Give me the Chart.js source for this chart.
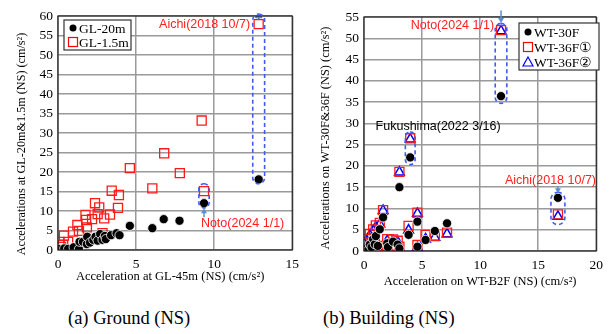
<!DOCTYPE html>
<html lang="en">
<head>
  <meta charset="UTF-8">
  <title>Acceleration comparison</title>
  <script src="https://cdn.jsdelivr.net/npm/chart.js"></script>
  <style>
    body { margin: 0; background: #fff; width: 609px; height: 334px; position: relative; overflow: hidden; }
    canvas { position: absolute; top: 0; }
    #ground { left: 0; }
    #building { left: 305px; }
    .cap { position: absolute; top: 307px; font-family: "Liberation Serif", "DejaVu Serif", serif; font-size: 18.5px; line-height: 22px; color: #000; }
  </style>
</head>
<body>
  <canvas id="ground" width="305" height="290"></canvas>
  <canvas id="building" width="304" height="290"></canvas>
  <div class="cap" style="left:68px">(a) Ground (NS)</div>
  <div class="cap" style="left:323px">(b) Building (NS)</div>

  <script>
    // (a) Ground: x = GL-45m, y = GL-20m / GL-1.5m
    const gl20X = [0.1, 0.4, 0.65, 1.0, 1.34, 1.38, 1.6, 1.85, 1.87, 2.05, 2.26, 2.4, 2.54, 2.7, 2.85, 3.0, 3.06, 3.4, 3.75, 3.94, 4.6, 6.04, 6.77, 7.78, 9.35, 12.85];
    const gl20Y = [0.2, 0.4, 0.3, 0.7, 0.2, 2.1, 2.1, 1.5, 3.4, 1.9, 2.6, 3.4, 2.4, 4.1, 2.6, 3.6, 2.8, 3.8, 4.3, 3.8, 6.2, 5.6, 7.9, 7.5, 12.0, 18.1];
    const gl15X = [0.1, 0.2, 0.33, 0.38, 0.65, 0.96, 1.24, 1.34, 1.76, 1.8, 1.85, 2.18, 2.37, 2.54, 2.64, 2.85, 2.96, 3.33, 3.44, 3.84, 3.9, 4.6, 6.04, 6.8, 7.8, 9.2, 9.35, 12.85];
    const gl15Y = [2.1, 0.8, 1.3, 3.7, 2.1, 4.7, 6.4, 4.9, 9.0, 7.7, 5.8, 7.9, 12.0, 9.2, 10.9, 4.3, 8.1, 9.1, 15.2, 10.8, 14.1, 21.0, 15.8, 24.8, 19.7, 33.2, 15.1, 57.9];

    // (b) Building: x = WT-B2F, y = WT-30F / WT-36F(1) / WT-36F(2)
    const wtX = [0.03, 0.23, 0.37, 0.5, 0.65, 0.79, 0.93, 1.02, 1.2, 1.36, 1.64, 2.0, 2.06, 2.5, 2.9, 3.05, 3.05, 3.84, 3.98, 4.6, 4.6, 5.3, 6.1, 7.15, 11.8, 16.7];
    const wt30Y = [0.8, 0.6, 0.2, 1.5, 0.9, 2.8, 1.6, 3.5, 1.2, 5.1, 7.9, 1.8, 0.9, 2.2, 1.5, 15.0, 0.6, 3.8, 22.0, 6.9, 1.0, 2.6, 4.7, 6.5, 36.4, 12.5];
    const wt36aY = [1.9, 2.8, 0.4, 4.0, 1.6, 5.1, 2.4, 6.0, 1.2, 6.6, 9.6, 2.8, 1.1, 2.7, 2.4, 18.6, 1.0, 5.9, 26.5, 9.0, 1.4, 3.8, 3.5, 4.3, 51.9, 8.6];
    const wt36bY = [1.7, 2.5, 0.2, 3.7, 1.4, 4.8, 2.1, 5.6, 1.0, 6.3, 9.5, 2.4, 0.9, 2.4, 2.1, 18.5, 0.7, 4.9, 26.3, 8.8, 0.8, 2.8, 3.2, 4.0, 51.7, 8.1];

    const xTicksA = [0, 5, 10, 15];
    const yTicksA = [0, 5, 10, 15, 20, 25, 30, 35, 40, 45, 50, 55, 60];
    const xTicksB = [0, 5, 10, 15, 20];
    const yTicksB = [0, 5, 10, 15, 20, 25, 30, 35, 40, 45, 50, 55];

    // event highlights: [xCentre, yLow, yHigh, halfWidthX]
    const eventsA = [[12.85, 17.0, 60.5, 0.38], [9.35, 10.8, 17.0, 0.33]];
    const eventsB = [[11.8, 34.7, 53.5, 0.5], [3.98, 20.3, 28.0, 0.42], [16.7, 6.2, 13.8, 0.6]];

    const serif = '"Liberation Serif", "DejaVu Serif", serif';
    const sans = '"Liberation Sans", "Noto Sans", sans-serif';

    function pts(xs, ys) {
      return xs.map((x, i) => ({ x: x, y: ys[i] }));
    }

    // axis titles, dashed capsules, arrows, labels and plot frame
    function overlay(titles, events, notes, arrows) {
      return {
        id: 'overlay',
        afterDatasetsDraw(chart) {
          const ctx = chart.ctx;
          const xs = chart.scales.x, ys = chart.scales.y;
          const a = chart.chartArea;
          ctx.save();
          ctx.strokeStyle = '#222';
          ctx.lineWidth = 1.2;
          ctx.strokeRect(a.left, a.top, a.right - a.left, a.bottom - a.top);

          ctx.fillStyle = '#000';
          ctx.textAlign = 'center';
          ctx.textBaseline = 'middle';
          ctx.font = titles.xSize + 'px ' + serif;
          ctx.fillText(titles.x, (a.left + a.right) / 2 + titles.xShift, a.bottom + titles.xGap);
          ctx.save();
          ctx.translate(a.left - titles.yGap, (a.top + a.bottom) / 2 + titles.yShift);
          ctx.rotate(-Math.PI / 2);
          ctx.font = titles.ySize + 'px ' + serif;
          ctx.fillText(titles.y, 0, 0);
          ctx.restore();

          ctx.setLineDash([4, 3]);
          ctx.strokeStyle = '#3f5bf2';
          ctx.lineWidth = 1.6;
          events.forEach(e => {
            const cx = xs.getPixelForValue(e[0]);
            const w = xs.getPixelForValue(e[0] + e[3]) - cx;
            const top = ys.getPixelForValue(e[2]);
            const bot = ys.getPixelForValue(e[1]);
            ctx.beginPath();
            ctx.roundRect(cx - w, top, 2 * w, bot - top, w);
            ctx.stroke();
          });
          ctx.setLineDash([]);

          ctx.strokeStyle = '#5b8fd0';
          ctx.fillStyle = '#5b8fd0';
          ctx.lineWidth = 1.5;
          arrows.forEach(r => {
            const x = xs.getPixelForValue(r[0]);
            const y0 = ys.getPixelForValue(r[1]);
            const y1 = ys.getPixelForValue(r[2]);
            const d = y1 > y0 ? 1 : -1;
            ctx.beginPath();
            ctx.moveTo(x, y0);
            ctx.lineTo(x, y1 - d * 3);
            ctx.stroke();
            ctx.beginPath();
            ctx.moveTo(x, y1);
            ctx.lineTo(x - 3, y1 - d * 5);
            ctx.lineTo(x + 3, y1 - d * 5);
            ctx.closePath();
            ctx.fill();
          });

          ctx.font = '12.5px ' + sans;
          ctx.textBaseline = 'middle';
          notes.forEach(n => {
            ctx.fillStyle = n.color;
            ctx.textAlign = n.align;
            ctx.fillText(n.text, xs.getPixelForValue(n.x), ys.getPixelForValue(n.y));
          });
          ctx.restore();
        }
      };
    }

    // boxed legend inside the plot
    function legendBox(box, items) {
      return {
        id: 'legendBox',
        afterDraw(chart) {
          const ctx = chart.ctx;
          ctx.save();
          ctx.fillStyle = '#fff';
          ctx.fillRect(box[0], box[1], box[2], box[3]);
          ctx.strokeStyle = '#333';
          ctx.lineWidth = 1.2;
          ctx.strokeRect(box[0], box[1], box[2], box[3]);
          ctx.font = '13.5px ' + serif;
          ctx.textBaseline = 'middle';
          ctx.textAlign = 'left';
          items.forEach((it, i) => {
            const y = box[1] + box[4] + i * box[5];
            const x = box[0] + 9;
            ctx.lineWidth = 1.2;
            ctx.beginPath();
            if (it.shape === 'dot') {
              ctx.fillStyle = '#000';
              ctx.arc(x, y, 3.5, 0, Math.PI * 2);
              ctx.fill();
            } else if (it.shape === 'sq') {
              ctx.strokeStyle = '#ff0000';
              ctx.strokeRect(x - 4.5, y - 4.5, 9, 9);
            } else {
              ctx.strokeStyle = '#0000ff';
              ctx.moveTo(x, y - 5);
              ctx.lineTo(x + 5, y + 4);
              ctx.lineTo(x - 5, y + 4);
              ctx.closePath();
              ctx.stroke();
            }
            ctx.fillStyle = '#000';
            ctx.fillText(it.label, x + 6, y + 1);
          });
          ctx.restore();
        }
      };
    }

    function axes(xTicks, yTicks, yWidth, xHeight) {
      const grid = { color: '#9a9a9a', lineWidth: 1.5, drawTicks: false };
      return {
        x: {
          type: 'linear', min: xTicks[0], max: xTicks[xTicks.length - 1],
          afterBuildTicks: s => { s.ticks = xTicks.map(v => ({ value: v })); },
          afterFit: s => { s.height = xHeight; },
          grid: grid, border: { display: false },
          ticks: { color: '#000', font: { family: serif, size: 13.5 }, padding: 6 }
        },
        y: {
          type: 'linear', min: yTicks[0], max: yTicks[yTicks.length - 1],
          afterBuildTicks: s => { s.ticks = yTicks.map(v => ({ value: v })); },
          afterFit: s => { s.width = yWidth; },
          grid: grid, border: { display: false },
          ticks: { color: '#000', font: { family: serif, size: 13.5 }, padding: 5 }
        }
      };
    }

    const base = {
      responsive: false,
      animation: false,
      plugins: { legend: { display: false }, tooltip: { enabled: false } }
    };

    new Chart(document.getElementById('ground'), {
      type: 'scatter',
      data: {
        datasets: [
          { label: 'GL-20m', data: pts(gl20X, gl20Y), pointStyle: 'circle', pointRadius: 4.6, backgroundColor: '#000', borderColor: '#fff', borderWidth: 0.8 },
          { label: 'GL-1.5m', data: pts(gl15X, gl15Y), pointStyle: 'rect', pointRadius: 6.4, backgroundColor: 'rgba(255,255,255,0)', borderColor: '#ff1a1a', borderWidth: 1.3 },
          { label: 'mark', data: [{ x: 12.85, y: 60.3 }], pointStyle: 'star', pointRadius: 4.5, borderColor: '#4a7ac0', borderWidth: 2, backgroundColor: '#4a7ac0' }
        ]
      },
      options: Object.assign({}, base, {
        layout: { padding: { left: 0, top: 16, right: 9, bottom: 0 } },
        scales: axes(xTicksA, yTicksA, 58, 40)
      }),
      plugins: [
        overlay({ x: 'Acceleration at GL-45m (NS) (cm/s²)', xSize: 12.5, xGap: 27, xShift: -5,
                  y: 'Accelerations at GL-20m&1.5m (NS) (cm/s²)', ySize: 12.2, yGap: 36, yShift: 11 },
          eventsA,
          [{ text: 'Aichi(2018 10/7)', x: 12.3, y: 57.9, color: '#ff2020', align: 'right' },
           { text: 'Noto(2024 1/1)', x: 9.15, y: 6.8, color: '#ff2020', align: 'left' }],
          [[9.35, 8.4, 10.7]]),
        legendBox([64, 20, 67, 30, 8, 14], [{ shape: 'dot', label: 'GL-20m' }, { shape: 'sq', label: 'GL-1.5m' }])
      ]
    });

    new Chart(document.getElementById('building'), {
      type: 'scatter',
      data: {
        datasets: [
          { label: 'WT-30F', data: pts(wtX, wt30Y), pointStyle: 'circle', pointRadius: 4.6, backgroundColor: '#000', borderColor: '#fff', borderWidth: 0.8 },
          { label: 'WT-36F①', data: pts(wtX, wt36aY), pointStyle: 'rect', pointRadius: 6.4, backgroundColor: 'rgba(255,255,255,0)', borderColor: '#ff1a1a', borderWidth: 1.3 },
          { label: 'WT-36F②', data: pts(wtX, wt36bY), pointStyle: 'triangle', pointRadius: 5.6, backgroundColor: 'rgba(255,255,255,0)', borderColor: '#0000ff', borderWidth: 1.5 }
        ]
      },
      options: Object.assign({}, base, {
        layout: { padding: { left: 0, top: 17, right: 9, bottom: 0 } },
        scales: axes(xTicksB, yTicksB, 59, 39)
      }),
      plugins: [
        overlay({ x: 'Acceleration on WT-B2F (NS) (cm/s²)', xSize: 12.5, xGap: 31, xShift: 0,
                  y: 'Accelerations on WT-30F&36F (NS) (cm/s²)', ySize: 12.4, yGap: 38, yShift: 4 },
          eventsB,
          [{ text: 'Noto(2024 1/1)', x: 11.2, y: 53.0, color: '#ff2020', align: 'right' },
           { text: 'Fukushima(2022 3/16)', x: 1.0, y: 29.2, color: '#000', align: 'left' },
           { text: 'Aichi(2018 10/7)', x: 16.06, y: 16.5, color: '#ff2020', align: 'center' }],
          [[11.8, 56.5, 53.6], [16.7, 15.2, 13.6]]),
        legendBox([214, 23, 80, 47, 9, 15], [{ shape: 'dot', label: 'WT-30F' }, { shape: 'sq', label: 'WT-36F①' }, { shape: 'tri', label: 'WT-36F②' }])
      ]
    });
  </script>
</body>
</html>
